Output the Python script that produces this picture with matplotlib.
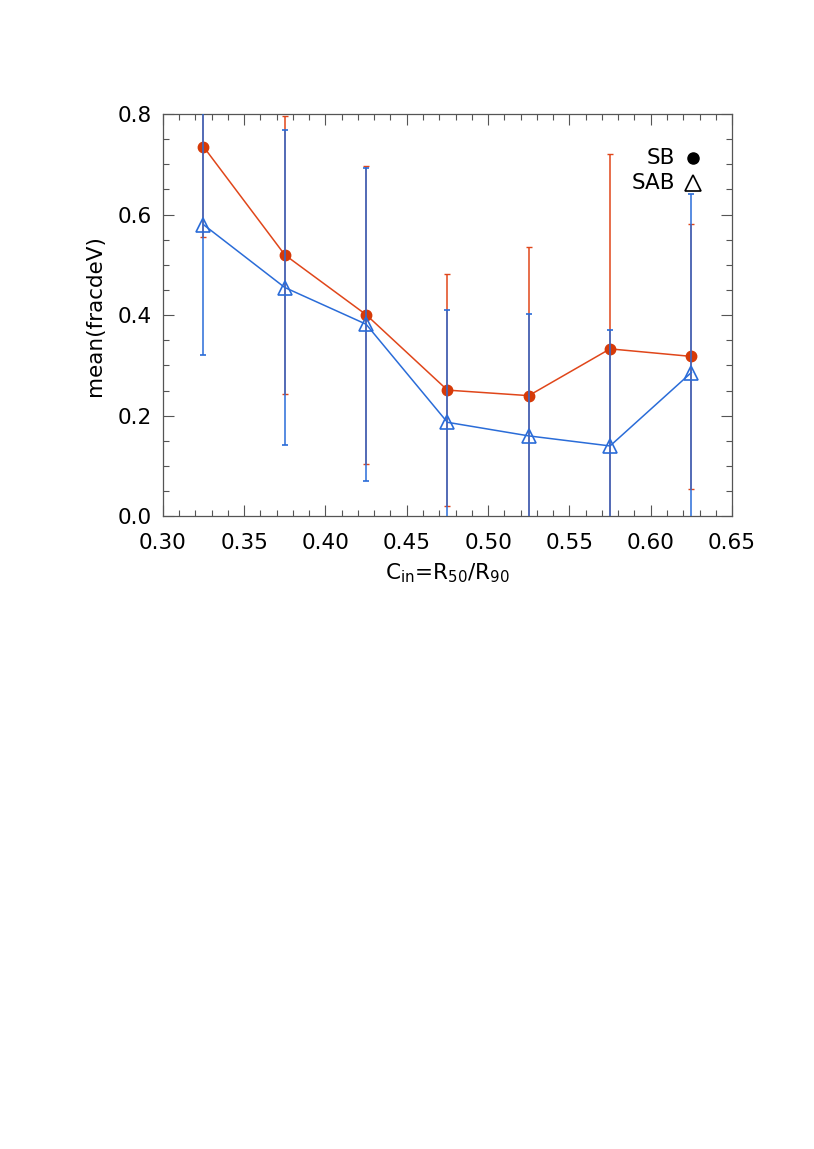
import matplotlib
matplotlib.use("Agg")
import matplotlib.pyplot as plt
import numpy as np
from matplotlib.ticker import MultipleLocator

# bin centres of C_in = R50/R90
cin = [0.325, 0.375, 0.425, 0.475, 0.525, 0.575, 0.625]

# SB (barred) mean fracdeV and 1-sigma errors
sb_mean = [0.735, 0.520, 0.401, 0.251, 0.240, 0.333, 0.318]
sb_err = [0.180, 0.276, 0.296, 0.231, 0.296, 0.387, 0.264]

# SAB (weakly barred)
sab_mean = [0.580, 0.455, 0.382, 0.187, 0.160, 0.140, 0.286]
sab_err = [0.260, 0.313, 0.311, 0.224, 0.243, 0.231, 0.355]

RED = "#e0461a"
BLUE = "#2a6cd8"

plt.rcParams["font.family"] = "DejaVu Sans"

fig = plt.figure(figsize=(8.14, 11.49), dpi=100)
ax = fig.add_axes([0.2, 0.5506, 0.6993, 0.3502])

ax.errorbar(cin, sb_mean, yerr=sb_err, color=RED, lw=1.1, elinewidth=1.1,
            capsize=2.2, capthick=1.0, marker="o", ms=7.5, mfc="#d63a08",
            mec="#d63a08", zorder=2)
ax.errorbar(cin, sab_mean, yerr=sab_err, color=BLUE, lw=1.1, elinewidth=1.1,
            capsize=2.2, capthick=1.0, marker="^", ms=10, mfc="none", mec=BLUE,
            mew=1.2, zorder=3)

ax.set_xlim(0.30, 0.65)
ax.set_ylim(0.0, 0.8)
ax.xaxis.set_major_locator(MultipleLocator(0.05))
ax.xaxis.set_minor_locator(MultipleLocator(0.01))
ax.yaxis.set_major_locator(MultipleLocator(0.2))
ax.yaxis.set_minor_locator(MultipleLocator(0.05))
ax.xaxis.set_major_formatter(matplotlib.ticker.FormatStrFormatter("%.2f"))
ax.yaxis.set_major_formatter(matplotlib.ticker.FormatStrFormatter("%.1f"))

for sp in ax.spines.values():
    sp.set_color("#555555")
    sp.set_linewidth(0.9)
ax.tick_params(which="both", direction="in", top=True, right=True,
               color="#555555", width=0.8, labelsize=15.5)
ax.tick_params(which="major", length=8)
ax.tick_params(which="minor", length=4)
ax.tick_params(axis="x", pad=12)
ax.tick_params(axis="y", pad=8)

ax.set_xlabel(r"C$_{\rm in}$=R$_{50}$/R$_{90}$", fontsize=15.5, labelpad=6)
ax.set_ylabel("mean(fracdeV)", fontsize=15.5, labelpad=9)

# legend drawn as text + symbols, right aligned
ax.text(0.900, 0.8907, "SB", transform=ax.transAxes, ha="right", va="center",
        fontsize=15.5)
ax.text(0.900, 0.8286, "SAB", transform=ax.transAxes, ha="right", va="center",
        fontsize=15.5)
ax.plot([0.931], [0.8907], transform=ax.transAxes, marker="o", ms=8,
        color="black", clip_on=False)
ax.plot([0.931], [0.8286], transform=ax.transAxes, marker="^", ms=11,
        mfc="none", mec="black", mew=1.2, clip_on=False)

fig.savefig("out.png", dpi=100)
